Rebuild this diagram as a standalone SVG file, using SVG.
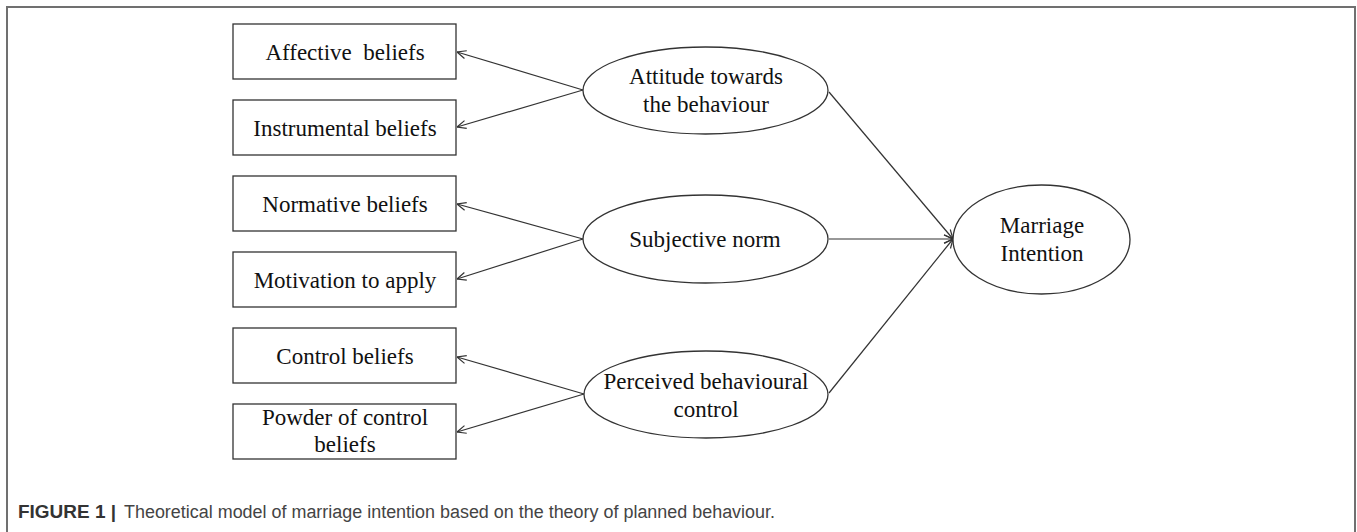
<svg xmlns="http://www.w3.org/2000/svg" width="1357" height="532" viewBox="0 0 1357 532">
<style>
.box{fill:#fff;stroke:#333;stroke-width:1.3}
.ell{fill:#fff;stroke:#333;stroke-width:1.3}
.t{font-family:"Liberation Serif","Times New Roman",serif;font-size:23px;fill:#111;text-anchor:middle}
.conn{stroke:#333;stroke-width:1.2;fill:none}
.cap{font-family:"Liberation Sans",Arial,sans-serif;font-size:18px}
</style>
<defs>
<marker id="arr" viewBox="0 0 10 10" refX="10" refY="5" markerWidth="10" markerHeight="10" markerUnits="userSpaceOnUse" orient="auto">
<path d="M1,1 L10,5 L1,9" fill="none" stroke="#333" stroke-width="1.2"/>
</marker>
</defs>
<rect x="7" y="7" width="1348" height="600" fill="#fff" stroke="#707070" stroke-width="2"/>
<g id="connectors">
<line class="conn" x1="583" y1="90" x2="457" y2="52" marker-end="url(#arr)"/>
<line class="conn" x1="583" y1="90" x2="457" y2="127" marker-end="url(#arr)"/>
<line class="conn" x1="583" y1="239" x2="457" y2="204" marker-end="url(#arr)"/>
<line class="conn" x1="583" y1="239" x2="457" y2="279" marker-end="url(#arr)"/>
<line class="conn" x1="584" y1="394" x2="457" y2="357" marker-end="url(#arr)"/>
<line class="conn" x1="584" y1="394" x2="457" y2="432" marker-end="url(#arr)"/>
<line class="conn" x1="829" y1="92" x2="953" y2="239" marker-end="url(#arr)"/>
<line class="conn" x1="829" y1="239" x2="953" y2="239" marker-end="url(#arr)"/>
<line class="conn" x1="829" y1="393" x2="953" y2="239" marker-end="url(#arr)"/>
</g>
<g id="affective"><rect class="box" x="233" y="24" width="223" height="55"/><text class="t" x="345" y="60" xml:space="preserve">Affective  beliefs</text></g>
<g id="instrumental"><rect class="box" x="233" y="100" width="223" height="55"/><text class="t" x="345" y="136">Instrumental beliefs</text></g>
<g id="normative"><rect class="box" x="233" y="176" width="223" height="55"/><text class="t" x="345" y="212">Normative beliefs</text></g>
<g id="motivation"><rect class="box" x="233" y="252" width="223" height="55"/><text class="t" x="345" y="288">Motivation to apply</text></g>
<g id="control"><rect class="box" x="233" y="328" width="223" height="55"/><text class="t" x="345" y="364">Control beliefs</text></g>
<g id="powder"><rect class="box" x="233" y="404" width="223" height="55"/><text class="t" x="345" y="425">Powder of control</text><text class="t" x="345" y="452">beliefs</text></g>
<g id="attitude"><ellipse class="ell" cx="705.5" cy="90.5" rx="122.5" ry="43.5"/><text class="t" x="706" y="84">Attitude towards</text><text class="t" x="706" y="112">the behaviour</text></g>
<g id="subjective"><ellipse class="ell" cx="705.5" cy="239" rx="122.5" ry="44"/><text class="t" x="705" y="247">Subjective norm</text></g>
<g id="perceived"><ellipse class="ell" cx="706" cy="394.5" rx="122" ry="43.5"/><text class="t" x="706" y="389">Perceived behavioural</text><text class="t" x="706" y="417">control</text></g>
<g id="marriage"><ellipse class="ell" cx="1041.5" cy="239.5" rx="88.5" ry="54.5"/><text class="t" x="1042" y="233">Marriage</text><text class="t" x="1042" y="261">Intention</text></g>
<g id="caption"><text class="cap" x="18" y="518" font-weight="bold" fill="#333" textLength="98" lengthAdjust="spacingAndGlyphs">FIGURE 1 |</text><text class="cap" x="124" y="518" fill="#444" textLength="651" lengthAdjust="spacingAndGlyphs">Theoretical model of marriage intention based on the theory of planned behaviour.</text></g>
</svg>
